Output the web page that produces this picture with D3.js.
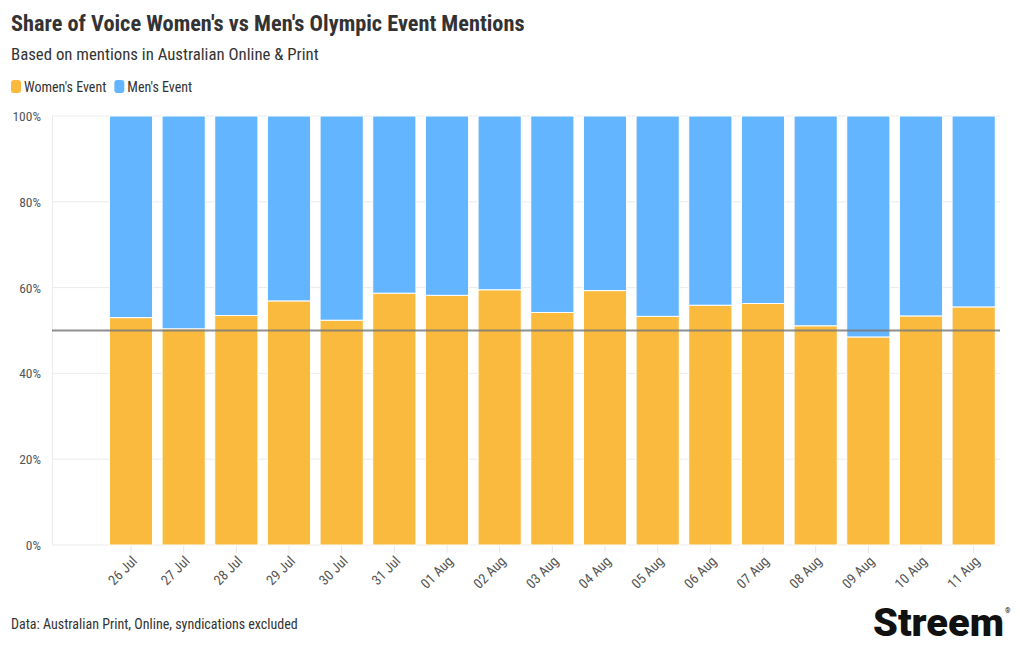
<!DOCTYPE html>
<html>
<head>
<meta charset="utf-8">
<script src="https://cdn.jsdelivr.net/npm/d3@7"></script>
<style>
  html, body { margin: 0; padding: 0; background: #fff; }
  svg { display: block; }
  text { font-family: "Liberation Sans Narrow", "Roboto Condensed", Roboto, sans-serif; }
</style>
</head>
<body>
<svg id="chart" width="1020" height="650"></svg>
<script>
const dates = ["26 Jul","27 Jul","28 Jul","29 Jul","30 Jul","31 Jul","01 Aug","02 Aug","03 Aug","04 Aug","05 Aug","06 Aug","07 Aug","08 Aug","09 Aug","10 Aug","11 Aug"];
const womens = [53.0, 50.4, 53.5, 56.9, 52.4, 58.7, 58.2, 59.5, 54.2, 59.3, 53.3, 55.9, 56.3, 51.1, 48.5, 53.4, 55.5];
const mens = womens.map(v => 100 - v);
const yTicks = [0, 20, 40, 60, 80, 100];
const seriesNames = ["Women's Event", "Men's Event"];
const seriesColors = ["#F9BA3E", "#62B5FE"];
const referenceValue = 50;

(function () {
const svg = d3.select("#chart");
const pLeft = 52, pRight = 1000, pTop = 116, pBottom = 545;
const slot = (pRight - pLeft) / 18;

const x = d3.scaleBand().domain(dates).range([pLeft + slot, pRight]).paddingInner(0.18).paddingOuter(0.09);
const y = d3.scaleLinear().domain([0, 100]).range([pBottom, pTop]);

// grid
svg.append("g").selectAll("line").data(yTicks).join("line")
  .attr("x1", pLeft).attr("x2", pRight)
  .attr("y1", d => y(d)).attr("y2", d => y(d))
  .attr("stroke", "#ebebeb").attr("stroke-width", 1);
svg.append("line").attr("x1", pLeft + 0.5).attr("x2", pLeft + 0.5).attr("y1", pTop).attr("y2", pBottom)
  .attr("stroke", "#ebebeb");

// y labels
svg.append("g").selectAll("text").data(yTicks).join("text")
  .attr("x", 41).attr("y", d => y(d) + 5)
  .attr("text-anchor", "end").attr("font-size", 13.5).attr("fill", "#555")
  .text(d => d + "%");

// x ticks
const xg = svg.append("g");
xg.selectAll("line").data(dates).join("line")
  .attr("x1", d => x(d) + x.bandwidth() / 2).attr("x2", d => x(d) + x.bandwidth() / 2)
  .attr("y1", pBottom).attr("y2", pBottom + 8)
  .attr("stroke", "#e6e6e6");
xg.selectAll("text").data(dates).join("text")
  .attr("transform", d => `translate(${x(d) + x.bandwidth() / 2 + 7},${pBottom + 17}) rotate(-45)`)
  .attr("text-anchor", "end").attr("font-size", 14).attr("fill", "#555")
  .text(d => d);

// bars
const stackData = dates.map((d, i) => ({ date: d, w: womens[i], m: mens[i] }));
const bars = svg.append("g");
bars.selectAll("rect.w").data(stackData).join("rect").attr("class", "w")
  .attr("x", d => x(d.date)).attr("width", x.bandwidth())
  .attr("y", d => y(d.w)).attr("height", d => y(0) - y(d.w))
  .attr("fill", seriesColors[0]).attr("stroke", "#fff").attr("stroke-width", 1);
bars.selectAll("rect.m").data(stackData).join("rect").attr("class", "m")
  .attr("x", d => x(d.date)).attr("width", x.bandwidth())
  .attr("y", d => y(d.w + d.m)).attr("height", d => y(d.w) - y(d.w + d.m))
  .attr("fill", seriesColors[1]).attr("stroke", "#fff").attr("stroke-width", 1);

// reference line
svg.append("line").attr("x1", pLeft).attr("x2", pRight)
  .attr("y1", y(referenceValue)).attr("y2", y(referenceValue))
  .attr("stroke", "#7a7a7a").attr("stroke-opacity", 0.85).attr("stroke-width", 2);

// title
svg.append("text").attr("x", 11).attr("y", 31).attr("font-size", 22.3).attr("font-weight", "bold")
  .attr("fill", "#333").text("Share of Voice Women's vs Men's Olympic Event Mentions");
svg.append("text").attr("x", 11).attr("y", 60).attr("font-size", 16.8)
  .attr("fill", "#333").text("Based on mentions in Australian Online & Print");

// legend
const lg = svg.append("g");
let lx = 11;
seriesNames.forEach((n, i) => {
  lg.append("rect").attr("x", lx).attr("y", 80).attr("width", 10).attr("height", 13).attr("rx", 3)
    .attr("fill", seriesColors[i]);
  const t = lg.append("text").attr("x", lx + 13).attr("y", 92).attr("font-size", 14).attr("fill", "#333").text(n);
  lx += 13 + t.node().getComputedTextLength() + 8;
});

// footer
svg.append("text").attr("x", 11).attr("y", 629).attr("font-size", 14).attr("fill", "#333")
  .text("Data: Australian Print, Online, syndications excluded");
svg.append("text").attr("x", 873).attr("y", 636).attr("font-size", 39).attr("font-weight", 900)
  .attr("fill", "#111").style("font-family", "Roboto, sans-serif")
  .attr("textLength", 131).attr("lengthAdjust", "spacingAndGlyphs").text("Streem");
svg.append("text").attr("x", 1005).attr("y", 613).attr("font-size", 7)
  .attr("fill", "#111").style("font-family", "Roboto, sans-serif").text("®");
})();
</script>
</body>
</html>
